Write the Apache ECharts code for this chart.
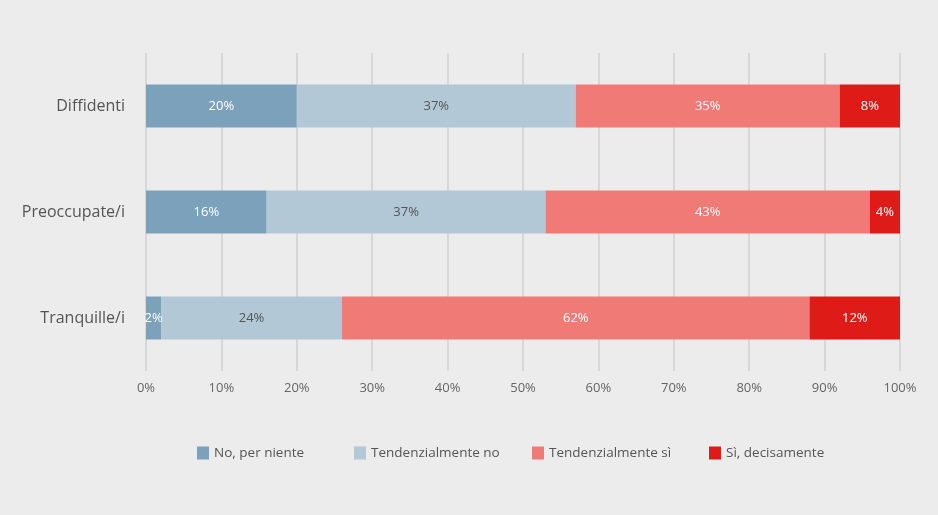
<!DOCTYPE html>
<html>
<head>
<meta charset="utf-8">
<script src="https://cdn.jsdelivr.net/npm/echarts@6/dist/echarts.min.js"></script>
<style>
html,body{margin:0;padding:0;background:#ececec;}
#chart{width:938px;height:515px;}
</style>
</head>
<body>
<div id="chart"></div>
<script>
// Groups (top to bottom) and answer shares in percent
const categories = ['Diffidenti', 'Preoccupate/i', 'Tranquille/i'];
const seriesNames = ['No, per niente', 'Tendenzialmente no', 'Tendenzialmente sì', 'Sì, decisamente'];
const noPerNiente = [20, 16, 2];
const tendNo = [37, 37, 24];
const tendSi = [35, 43, 62];
const siDecisamente = [8, 4, 12];
const xTicks = [0, 10, 20, 30, 40, 50, 60, 70, 80, 90, 100];

const colors = ['#7ba1bb', '#b2c8d6', '#f07a75', '#df1b18'];
const labelColors = ['#ffffff', '#555555', '#ffffff', '#ffffff'];
const values = [noPerNiente, tendNo, tendSi, siDecisamente];
const fontFamily = '"Open Sans", "Noto Sans", sans-serif';

// one legend block per answer, each placed in its own column
const legendLeft = [197, 354, 532, 709];
const legends = seriesNames.map((name, i) => ({
  left: legendLeft[i],
  top: 446,
  padding: 0,
  itemWidth: 12,
  itemHeight: 13,
  icon: 'rect',
  selectedMode: false,
  textStyle: { color: '#555', fontSize: 13.5, fontFamily: fontFamily },
  data: [name]
}));

const chart = echarts.init(document.getElementById('chart'));
chart.setOption({
  backgroundColor: '#ececec',
  textStyle: { fontFamily: fontFamily },
  grid: { left: 146, right: 38, top: 53, bottom: 144 },
  xAxis: {
    type: 'value',
    min: xTicks[0],
    max: xTicks[xTicks.length - 1],
    interval: 10,
    axisLine: { show: false },
    axisTick: { show: false },
    splitLine: { show: true, lineStyle: { color: '#d3d3d3', width: 1.6 } },
    axisLabel: { color: '#666', fontSize: 13, margin: 11, formatter: v => v + '%' }
  },
  yAxis: {
    type: 'category',
    inverse: true,
    data: categories,
    axisLine: { show: false },
    axisTick: { show: false },
    axisLabel: { color: '#555', fontSize: 16, margin: 21 }
  },
  legend: legends,
  series: seriesNames.map((name, i) => ({
    name: name,
    type: 'bar',
    stack: 'total',
    barWidth: 43,
    itemStyle: { color: colors[i] },
    label: {
      show: true,
      position: 'inside',
      color: labelColors[i],
      fontSize: 13,
      fontFamily: fontFamily,
      formatter: p => p.value + '%'
    },
    data: values[i]
  }))
});
</script>
</body>
</html>
